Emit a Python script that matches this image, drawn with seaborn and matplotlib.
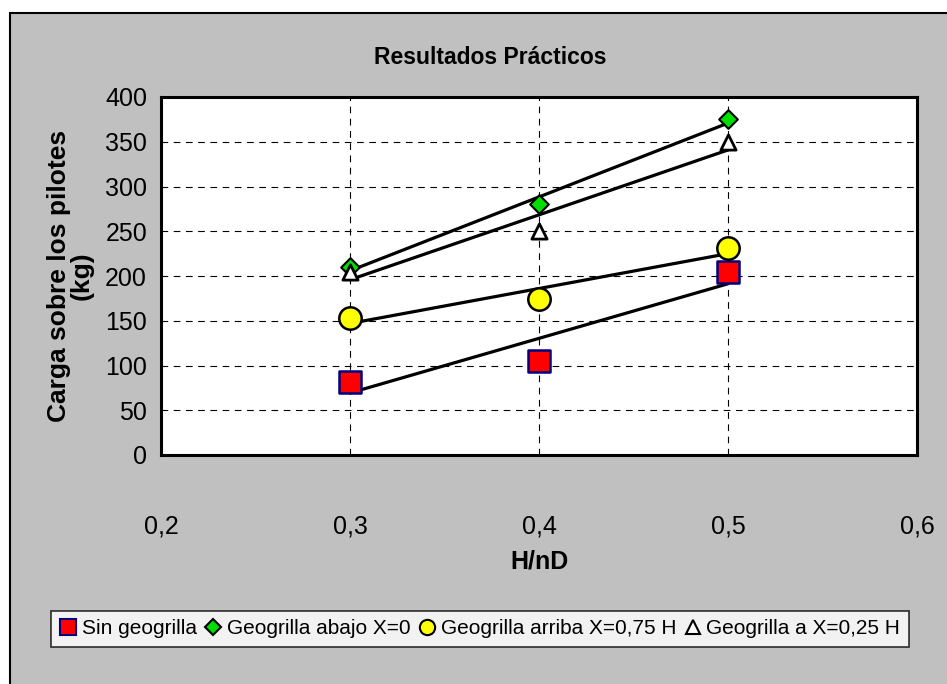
import numpy as np
import pandas as pd
import matplotlib
matplotlib.use("Agg")
import matplotlib.pyplot as plt
from matplotlib.patches import Rectangle
import seaborn as sns

# Relación H/nD y carga medida sobre los pilotes (kg)
h_nd = [0.3, 0.4, 0.5]
sin_geogrilla = [82, 105, 204]
geogrilla_abajo = [210, 280, 375]
geogrilla_arriba = [153, 174, 231]
geogrilla_025 = [205, 250, 350]

series_names = [
    "Sin geogrilla",
    "Geogrilla abajo X=0",
    "Geogrilla arriba X=0,75 H",
    "Geogrilla a X=0,25 H",
]
x_ticks = [0.2, 0.3, 0.4, 0.5, 0.6]
x_tick_labels = ["0,2", "0,3", "0,4", "0,5", "0,6"]
y_ticks = [0, 50, 100, 150, 200, 250, 300, 350, 400]

sns.set_style("white")
plt.rcParams["font.family"] = ["Liberation Sans", "DejaVu Sans"]
plt.rcParams["text.color"] = "black"
plt.rcParams["axes.labelcolor"] = "black"
plt.rcParams["xtick.color"] = "black"
plt.rcParams["ytick.color"] = "black"

fig = plt.figure(figsize=(9.47, 6.84), dpi=100, facecolor="white")

# gray chart area with its frame
panel = Rectangle((10 / 947, -0.01), 1.0, (684 - 13) / 684 + 0.01,
                  transform=fig.transFigure, facecolor="#C0C0C0",
                  edgecolor="black", linewidth=1.5, zorder=-10)
fig.patches.append(panel)

ax = fig.add_axes([161 / 947, 1 - 455 / 684, (917 - 161) / 947, (455 - 97) / 684])
ax.set_zorder(2)
ax.set_facecolor("white")

styles = [
    dict(marker="s", color="#FF0000", edgecolor="#000080", s=230, linewidth=1.8),
    dict(marker="D", color="#00DD00", edgecolor="black", s=90, linewidth=1.5),
    dict(marker="o", color="#FFFF00", edgecolor="black", s=260, linewidth=1.8),
    dict(marker="^", color="white", edgecolor="black", s=120, linewidth=2.0),
]
values = [sin_geogrilla, geogrilla_abajo, geogrilla_arriba, geogrilla_025]

frames = []
for name, vals in zip(series_names, values):
    frames.append(pd.DataFrame({"H/nD": h_nd, "carga": vals, "serie": name}))
data = pd.concat(frames, ignore_index=True)

# linear trend line for each series
for name in series_names:
    sub = data[data["serie"] == name]
    sns.regplot(data=sub, x="H/nD", y="carga", scatter=False, ci=None,
                color="black", line_kws=dict(linewidth=2.3, zorder=3), ax=ax)

handles = []
msize = {"s": 11, "D": 8, "o": 11, "^": 10}
for name, st in zip(series_names, styles):
    sub = data[data["serie"] == name]
    sns.scatterplot(data=sub, x="H/nD", y="carga", ax=ax, zorder=4, legend=False, **st)
    handles.append(plt.Line2D([], [], linestyle="none", marker=st["marker"],
                              markerfacecolor=st["color"],
                              markeredgecolor=st["edgecolor"],
                              markeredgewidth=1.5,
                              markersize=msize[st["marker"]]))

ax.set_xlim(0.2, 0.6)
ax.set_ylim(0, 400)
ax.set_xticks(x_ticks)
ax.set_xticklabels(x_tick_labels)
ax.set_yticks(y_ticks)
ax.grid(True, color="black", linestyle=(0, (6, 5)), linewidth=0.8)
ax.set_axisbelow(True)
for sp in ax.spines.values():
    sp.set_visible(True)
    sp.set_color("black")
    sp.set_linewidth(2.2)
ax.tick_params(axis="both", which="major", direction="out", length=6, width=1,
               color="#555555", labelsize=18, pad=4)
ax.tick_params(axis="x", pad=37)

ax.set_xlabel("H/nD", fontsize=18, fontweight="bold", labelpad=8)
ax.set_ylabel("Carga sobre los pilotes\n(kg)", fontsize=19, fontweight="bold",
              labelpad=8, linespacing=0.95)
fig.text(490 / 947, 1 - 57 / 684, "Resultados Prácticos", ha="center", va="center",
         fontsize=16.5, fontweight="bold")

leg = fig.legend(handles, series_names, loc="center", ncol=4,
                 bbox_to_anchor=(480 / 947, 1 - 629 / 684), fontsize=15,
                 frameon=True, fancybox=False, edgecolor="black",
                 handlelength=0.8, handletextpad=0.25, columnspacing=0.4,
                 borderpad=0.4, borderaxespad=0)
leg.get_frame().set_linewidth(1.2)
leg.get_frame().set_facecolor("white")

fig.savefig("out.png", dpi=100, facecolor=fig.get_facecolor())
